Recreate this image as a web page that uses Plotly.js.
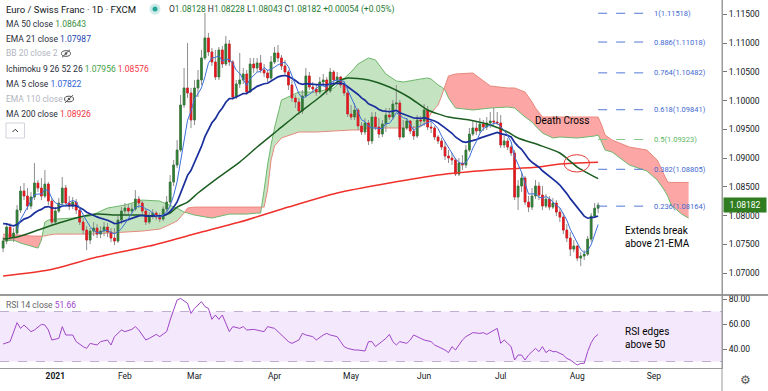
<!DOCTYPE html>
<html><head><meta charset="utf-8">
<script src="https://cdn.plot.ly/plotly-3.0.1.min.js"></script>
<style>html,body{margin:0;padding:0;background:#fff;}#chart{width:768px;height:391px;}</style>
</head><body><div id="chart"></div>
<script>
const startDate='2020-12-10', endDate='2021-09-30', holidays=['2020-12-25','2021-01-01'];
const opens=[1.07435,1.07557,1.07800,1.07626,1.07696,1.08096,1.08427,1.08340,1.08166,1.08322,
1.08566,1.08479,1.08340,1.08548,1.08253,1.07887,1.08079,1.08218,1.08479,1.08218,
1.08166,1.08235,1.08096,1.07887,1.07748,1.07574,1.07731,1.07783,1.07678,1.07731,
1.07800,1.07713,1.07609,1.07557,1.07922,1.08079,1.08131,1.08079,1.08113,1.08287,
1.08218,1.08079,1.07887,1.07992,1.08044,1.07974,1.07939,1.08113,1.08235,1.08583,
1.08879,1.09140,1.09923,1.10219,1.10132,1.09662,1.10219,1.10358,1.10741,1.11089,
1.10845,1.10671,1.10410,1.10880,1.10636,1.10984,1.10671,1.10062,1.10288,1.10358,
1.10462,1.10149,1.10636,1.10567,1.10654,1.10532,1.10480,1.10393,1.10671,1.10828,
1.10741,1.10602,1.10497,1.10271,1.10045,1.09975,1.09819,1.10080,1.10428,1.10236,
1.10201,1.10149,1.10323,1.10358,1.10167,1.10497,1.10358,1.10410,1.10271,1.10132,
1.09766,1.09714,1.09836,1.09558,1.09453,1.09610,1.09297,1.09714,1.09540,1.09418,
1.09592,1.09749,1.09714,1.09940,1.09958,1.09366,1.09523,1.09645,1.09471,1.09384,
1.09662,1.09645,1.09836,1.09540,1.09523,1.09366,1.09297,1.09192,1.09036,1.09001,
1.08966,1.08722,1.08914,1.08879,1.09140,1.09418,1.09523,1.09471,1.09592,1.09540,
1.09610,1.09645,1.09627,1.09610,1.09227,1.09297,1.09192,1.09088,1.08322,1.08514,
1.08653,1.08235,1.08148,1.08340,1.08514,1.08357,1.08166,1.08287,1.08148,1.08218,
1.08061,1.07974,1.07748,1.07609,1.07417,1.07470,1.07261,1.07296,1.07330,1.07591,
1.07992,1.08128];
const highs=[1.07626,1.07852,1.07870,1.07783,1.08183,1.08514,1.08566,1.08479,1.08409,1.08914,
1.08618,1.08653,1.08792,1.08583,1.08305,1.08148,1.08305,1.08670,1.08531,1.08340,
1.08322,1.08287,1.08148,1.07957,1.07818,1.07783,1.07887,1.07852,1.07818,1.07887,
1.07870,1.07783,1.07783,1.07992,1.08148,1.08218,1.08200,1.08200,1.08444,1.08340,
1.08253,1.08113,1.08061,1.08113,1.08079,1.08044,1.08166,1.08340,1.08705,1.08966,
1.09314,1.10097,1.10567,1.11002,1.10219,1.10358,1.10532,1.10880,1.11524,1.11176,
1.10915,1.10880,1.10932,1.10950,1.11124,1.11054,1.10706,1.10358,1.10828,1.10567,
1.10532,1.10741,1.10741,1.10741,1.10793,1.10636,1.10532,1.10776,1.10932,1.10967,
1.10793,1.10706,1.10532,1.10358,1.10097,1.10045,1.10184,1.10567,1.10497,1.10323,
1.10288,1.10410,1.10462,1.10410,1.10567,1.10532,1.10497,1.10428,1.10323,1.10219,
1.09923,1.09958,1.09871,1.09627,1.09697,1.09662,1.09801,1.09801,1.09697,1.09662,
1.09871,1.09871,1.10010,1.10271,1.10010,1.09662,1.09697,1.09662,1.09558,1.09749,
1.09732,1.09940,1.09906,1.09627,1.09558,1.09401,1.09349,1.09279,1.09140,1.09088,
1.09001,1.09001,1.09053,1.09227,1.09523,1.09662,1.09627,1.09697,1.09662,1.09714,
1.09801,1.09871,1.09801,1.09749,1.09384,1.09349,1.09227,1.09140,1.08618,1.08757,
1.08688,1.08340,1.08479,1.08618,1.08583,1.08514,1.08374,1.08340,1.08305,1.08270,
1.08131,1.08044,1.07852,1.07713,1.07574,1.07487,1.07365,1.07400,1.07644,1.08044,
1.08218,1.08228];
const lows=[1.07365,1.07504,1.07574,1.07539,1.07661,1.08044,1.08270,1.08096,1.08113,1.08270,
1.08409,1.08270,1.08305,1.08183,1.07835,1.07852,1.08044,1.08183,1.08166,1.08096,
1.08113,1.08026,1.07835,1.07678,1.07400,1.07504,1.07644,1.07609,1.07609,1.07644,
1.07626,1.07539,1.07487,1.07522,1.07852,1.08026,1.08026,1.08044,1.08079,1.08131,
1.08026,1.07835,1.07852,1.07939,1.07922,1.07887,1.07905,1.08061,1.08183,1.08514,
1.08827,1.09105,1.09871,1.10045,1.09523,1.09575,1.10062,1.10271,1.10706,1.10776,
1.10602,1.10358,1.10358,1.10567,1.10602,1.10602,1.10010,1.10027,1.10219,1.10288,
1.10097,1.10132,1.10480,1.10497,1.10480,1.10410,1.10323,1.10358,1.10636,1.10671,
1.10532,1.10445,1.10184,1.09975,1.09871,1.09749,1.09766,1.10045,1.10184,1.10132,
1.10080,1.10114,1.10254,1.10097,1.10132,1.10288,1.10288,1.10219,1.10080,1.09714,
1.09662,1.09662,1.09488,1.09401,1.09401,1.09227,1.09244,1.09488,1.09349,1.09366,
1.09453,1.09662,1.09679,1.09836,1.09314,1.09349,1.09488,1.09418,1.09314,1.09349,
1.09575,1.09558,1.09488,1.09436,1.09314,1.09244,1.09140,1.08966,1.08914,1.08879,
1.08688,1.08688,1.08792,1.08827,1.09105,1.09384,1.09401,1.09436,1.09471,1.09488,
1.09523,1.09558,1.09575,1.09175,1.09175,1.09140,1.09036,1.08270,1.08096,1.08409,
1.08183,1.08061,1.08096,1.08287,1.08270,1.08096,1.08131,1.08096,1.08113,1.07992,
1.07887,1.07678,1.07539,1.07296,1.07365,1.07209,1.07122,1.07226,1.07296,1.07539,
1.07957,1.08043];
const closes=[1.07557,1.07800,1.07626,1.07696,1.08096,1.08427,1.08340,1.08166,1.08322,1.08566,
1.08479,1.08340,1.08548,1.08253,1.07887,1.08079,1.08218,1.08479,1.08218,1.08166,
1.08235,1.08096,1.07887,1.07748,1.07574,1.07731,1.07783,1.07678,1.07731,1.07800,
1.07713,1.07609,1.07557,1.07922,1.08079,1.08131,1.08079,1.08113,1.08287,1.08218,
1.08079,1.07887,1.07992,1.08044,1.07974,1.07939,1.08113,1.08235,1.08583,1.08879,
1.09140,1.09923,1.10219,1.10132,1.09662,1.10219,1.10358,1.10741,1.11089,1.10845,
1.10671,1.10410,1.10880,1.10636,1.10984,1.10671,1.10062,1.10288,1.10358,1.10462,
1.10149,1.10636,1.10567,1.10654,1.10532,1.10480,1.10393,1.10671,1.10828,1.10741,
1.10602,1.10497,1.10271,1.10045,1.09975,1.09819,1.10080,1.10428,1.10236,1.10201,
1.10149,1.10323,1.10358,1.10167,1.10497,1.10358,1.10410,1.10271,1.10132,1.09766,
1.09714,1.09836,1.09558,1.09453,1.09610,1.09297,1.09714,1.09540,1.09418,1.09592,
1.09749,1.09714,1.09940,1.09958,1.09366,1.09523,1.09645,1.09471,1.09384,1.09662,
1.09645,1.09836,1.09540,1.09523,1.09366,1.09297,1.09192,1.09036,1.09001,1.08966,
1.08722,1.08914,1.08879,1.09140,1.09418,1.09523,1.09471,1.09592,1.09540,1.09610,
1.09645,1.09627,1.09610,1.09227,1.09297,1.09192,1.09088,1.08322,1.08514,1.08653,
1.08235,1.08148,1.08340,1.08514,1.08357,1.08166,1.08287,1.08148,1.08218,1.08061,
1.07974,1.07748,1.07609,1.07417,1.07470,1.07261,1.07296,1.07330,1.07591,1.07992,
1.08128,1.08182];

const ma50Bars=[0,4,10,16,22,27,33,39,45,48,50,53,56,62,68,73,79,85,91,96,99,105,111,117,122,128,134,140,145,148,154,160,165,171];
const ma50Vals=[1.07591,1.07626,1.07748,1.07870,1.07974,1.08026,1.08009,1.08009,1.07992,1.08044,1.08148,1.08235,1.08392,1.08670,1.08931,1.09192,1.09488,1.09784,1.10062,1.10323,1.10393,1.10358,1.10236,1.10045,1.09836,1.09714,1.09662,1.09575,1.09453,1.09349,1.09227,1.09088,1.08844,1.08643];
const ma200Bars=[0,13,27,42,56,68,82,96,111,125,140,154,160,171];
const ma200Vals=[1.06948,1.07052,1.07278,1.07470,1.07696,1.07887,1.08148,1.08392,1.08566,1.08705,1.08792,1.08844,1.08896,1.08926];
const emaSeed=1.0789;

const cloudBars=[0,3,5,8,10,11,12,13,15,20,25,30,35,40,45,47,50,52,53,55,60,65,70,73,74,75,76,77,78,80,85,90,95,100,102,105,107,110,113,115,120,122,123,125,126,127,128,130,135,140,145,147,150,152,153,155,158,160,165,170,171,172,173,175,180,185,188,190,191,192,195,197];
const leadA=[1.07557,1.07574,1.07522,1.07470,1.07435,1.07574,1.07887,1.07922,1.07939,1.07957,1.07992,1.08131,1.08183,1.08270,1.08253,1.08200,1.08131,1.08061,1.08044,1.08009,1.07957,1.08026,1.08026,1.08044,1.08044,1.08444,1.08879,1.09227,1.09523,1.10010,1.10149,1.10149,1.10219,1.10497,1.10636,1.10741,1.10706,1.10462,1.10341,1.10323,1.10375,1.10393,1.10375,1.10271,1.10236,1.10184,1.10045,1.09871,1.09836,1.09871,1.09888,1.09871,1.09714,1.09627,1.09558,1.09436,1.09349,1.09366,1.09349,1.09384,1.09401,1.09279,1.09140,1.09105,1.08879,1.08775,1.08618,1.08444,1.08340,1.08183,1.08026,1.07956];
const leadB=[1.07678,1.07661,1.07661,1.07644,1.07644,1.07644,1.07644,1.07661,1.07678,1.07678,1.07678,1.07696,1.07713,1.07731,1.07765,1.07818,1.07905,1.08044,1.08131,1.08148,1.08148,1.08148,1.08148,1.08148,1.08148,1.08148,1.08444,1.08966,1.09210,1.09349,1.09453,1.09453,1.09471,1.09488,1.09488,1.09523,1.09523,1.09523,1.09523,1.09523,1.09540,1.09662,1.09784,1.09923,1.10080,1.10254,1.10428,1.10462,1.10480,1.10254,1.10219,1.10219,1.10149,1.09975,1.09871,1.09714,1.09714,1.09714,1.09714,1.09714,1.09714,1.09575,1.09401,1.09314,1.09192,1.09140,1.08966,1.08705,1.08583,1.08576,1.08576,1.08576];

const rsiBars=[0,2,4,5,6,8,9,11,12,13,14,16,17,18,20,21,23,24,25,27,28,30,31,32,34,35,37,38,39,41,42,44,45,47,48,49,50,51,53,54,55,57,58,59,60,61,62,63,65,66,68,69,70,72,73,75,76,78,79,80,82,83,85,86,87,89,90,92,93,94,96,97,98,99,101,102,104,105,106,107,109,110,111,112,113,114,116,117,118,120,121,123,124,125,127,128,129,130,132,133,134,135,137,138,139,141,142,143,144,145,146,147,148,149,150,151,153,154,155,156,157,158,159,161,162,163,165,166,167,168,169,170,171];
const rsiVals=[44,45.9,61.1,56.5,59.2,53.9,55.2,59.7,59.2,55.2,47.2,48.5,57.9,51.2,51.2,45.9,41.9,40.5,44.5,43.2,45.9,47.2,43.2,49.9,55.2,53.9,55.7,57.9,55.2,47.2,48.5,51.7,49.9,53.9,63.2,71.2,79.2,80.5,76.5,68.5,72.5,77.9,73.9,72.5,63.7,67.2,63.7,67.2,53.9,57.9,56.5,57.9,55.2,55.7,55.2,53.9,57.9,56.5,53.9,51.2,45.9,44.5,47.2,52.5,51.2,49.9,47.2,51.2,52.5,51.2,49.9,45.9,41.9,40.5,39.2,39.2,38.4,45.9,45.9,41.9,45.9,48.5,51.7,45.9,43.2,45.9,44.5,47.2,51.2,48.5,47.2,45.9,43.2,41.9,39.2,37.1,41.9,39.2,47.2,49.9,51.2,53.1,52.5,53.1,51.7,54.7,56.5,44.5,47.2,44.5,41.9,31.2,35.2,35.2,31.2,35.2,40.5,37.9,41.9,37.1,39.2,37.9,37.9,35.2,32.5,31.2,27.2,28.5,28.5,38,45,49.5,51.66];

const fibLevels=[1,0.886,0.764,0.618,0.5,0.382,0.236];
const fibPrices=[1.11518,1.11018,1.10482,1.09841,1.09323,1.08805,1.08164];
const monthStarts=['2021-01-04','2021-02-01','2021-03-01','2021-04-01','2021-05-03','2021-06-01','2021-07-01','2021-08-02','2021-09-01'];
const monthLabels=['<b>2021</b>','Feb','Mar','Apr','May','Jun','Jul','Aug','Sep'];
const priceTicks=[1.07,1.075,1.08,1.085,1.09,1.095,1.10,1.105,1.11,1.115];
const rsiTicks=[40,60,80];
const legendValues={ma50:'1.08643',ema21:'1.07987',ichiA:'1.07956',ichiB:'1.08576',ma5:'1.07822',ma200:'1.08926',rsi:'51.66'};

// trading calendar
const tradingDays=[];
for(let d=new Date(startDate+'T00:00:00Z');d<=new Date(endDate+'T00:00:00Z');d.setUTCDate(d.getUTCDate()+1)){
  const wd=d.getUTCDay(), s=d.toISOString().slice(0,10);
  if(wd>0&&wd<6&&!holidays.includes(s)) tradingDays.push(s);
}
const bars=closes.map((_,i)=>i);
const last=closes.length-1;

// indicators derived from closes
const ma5=closes.map((c,i)=>i<4?null:closes.slice(i-4,i+1).reduce((a,b)=>a+b,0)/5);
const ema21=[];closes.forEach((c,i)=>{const p=i===0?emaSeed:ema21[i-1];ema21.push(p+(c-p)*2/22);});

const UP='#2e7d32', DN='#e8161c', WICK='#8e8e8e';
const traces=[
 {type:'candlestick',x:bars,open:opens,high:highs,low:lows,close:closes,whiskerwidth:0,
  increasing:{line:{color:WICK,width:1},fillcolor:WICK},decreasing:{line:{color:WICK,width:1},fillcolor:WICK},hoverinfo:'skip'},
 {type:'candlestick',x:bars,open:opens,close:closes,high:opens.map((o,i)=>Math.max(o,closes[i])),low:opens.map((o,i)=>Math.min(o,closes[i])),whiskerwidth:0,
  increasing:{line:{color:UP,width:0.6},fillcolor:UP},decreasing:{line:{color:DN,width:0.6},fillcolor:DN},hoverinfo:'skip'},
 {type:'scatter',mode:'lines',x:ma200Bars,y:ma200Vals,line:{color:'#f0302a',width:1.5,shape:'spline',smoothing:0.6},hoverinfo:'skip'},
 {type:'scatter',mode:'lines',x:ma50Bars,y:ma50Vals,line:{color:'#1b5e20',width:1.5,shape:'spline',smoothing:0.6},hoverinfo:'skip'},
 {type:'scatter',mode:'lines',x:bars,y:ema21,line:{color:'#1a2f9c',width:1.7},hoverinfo:'skip'},
 {type:'scatter',mode:'lines',x:bars,y:ma5,line:{color:'#3d6fd8',width:1},hoverinfo:'skip'},
 {type:'scatter',mode:'lines',x:rsiBars,y:rsiVals,yaxis:'y2',line:{color:'#a046c8',width:1},hoverinfo:'skip'}
];

const W=722,H=368;
const X=px=>px/W, Y=py=>1-py/H;
const shapes=[];
// ichimoku cloud
function P(x,y){return x.toFixed(3)+','+y.toFixed(6);}
let seg=[],sgn=null;
function flush(){if(seg.length<2)return;const up=seg.map(p=>P(p[0],p[1]));const dn=seg.slice().reverse().map(p=>P(p[0],p[2]));
 shapes.push({type:'path',xref:'x',yref:'y',layer:'below',path:'M'+up.join('L')+'L'+dn.join('L')+'Z',fillcolor:sgn>0?'#c3e3c1':'#fca6a6',line:{width:0}});}
for(let k=0;k<cloudBars.length;k++){
  const x=cloudBars[k],a=leadA[k],b=leadB[k],s=a>=b?1:-1;
  if(sgn!==null&&s!==sgn){const xp=cloudBars[k-1],ap=leadA[k-1],bp=leadB[k-1];const dp=ap-bp,d=a-b,t=dp/(dp-d);
    const xc=xp+t*(x-xp),yc=ap+t*(a-ap);seg.push([xc,yc,yc]);flush();seg=[[xc,yc,yc]];}
  seg.push([x,a,b]);sgn=s;
}
flush();
shapes.push({type:'path',xref:'x',yref:'y',layer:'below',path:'M'+cloudBars.map((x,k)=>P(x,leadA[k])).join('L'),line:{color:'#6db86b',width:1}});
shapes.push({type:'path',xref:'x',yref:'y',layer:'below',path:'M'+cloudBars.map((x,k)=>P(x,leadB[k])).join('L'),line:{color:'#e8897c',width:1}});
// RSI band
shapes.push({type:'rect',xref:'paper',yref:'y2',x0:0,x1:1,y0:30,y1:70,fillcolor:'#f4e8fc',line:{width:0},layer:'below'});
[30,70].forEach(v=>shapes.push({type:'line',xref:'paper',yref:'y2',x0:0,x1:1,y0:v,y1:v,line:{color:'#bfaed0',width:1,dash:'dash'},layer:'below'}));
// pane separators
shapes.push({type:'line',xref:'paper',yref:'paper',x0:0,x1:768/W,y0:Y(295),y1:Y(295),line:{color:'#777',width:1.5}});
shapes.push({type:'line',xref:'paper',yref:'paper',x0:1,x1:1,y0:Y(391),y1:1,line:{color:'#999',width:1}});
// fib levels
const fibAnn=[];
fibLevels.forEach((lv,k)=>{const col=lv===0.5?'#86c98a':'#5277d6';
  shapes.push({type:'line',xref:'x',yref:'y',x0:last,x1:last+15.2,y0:fibPrices[k],y1:fibPrices[k],line:{color:col,width:1,dash:'dash'}});
  fibAnn.push({xref:'x',yref:'y',x:last+15.6,y:fibPrices[k],xanchor:'left',yanchor:'middle',showarrow:false,
    text:lv+'('+fibPrices[k].toFixed(5)+')',font:{size:7.5,color:lv===0.5?'#5cb85f':'#3f68d0'}});
});
// death-cross ellipse
shapes.push({type:'circle',xref:'paper',yref:'paper',x0:X(564),x1:X(589.5),y0:Y(172),y1:Y(154.7),line:{color:'#e53935',width:1}});
// header icons
shapes.push({type:'circle',xref:'paper',yref:'paper',x0:X(149.5),x1:X(160.5),y0:Y(14.5),y1:Y(3.5),fillcolor:'rgba(38,166,154,0.22)',line:{width:0}});
shapes.push({type:'circle',xref:'paper',yref:'paper',x0:X(152.5),x1:X(157.5),y0:Y(11.5),y1:Y(6.5),fillcolor:'#26a69a',line:{width:0}});
function eye(cx,cy){
  shapes.push({type:'circle',xref:'paper',yref:'paper',x0:X(cx-4.5),x1:X(cx+4.5),y0:Y(cy+2.8),y1:Y(cy-2.8),line:{color:'#555',width:1}});
  shapes.push({type:'circle',xref:'paper',yref:'paper',x0:X(cx-1.3),x1:X(cx+1.3),y0:Y(cy+1.3),y1:Y(cy-1.3),fillcolor:'#555',line:{width:0}});
  shapes.push({type:'line',xref:'paper',yref:'paper',x0:X(cx-4),x1:X(cx+4),y0:Y(cy+3.8),y1:Y(cy-3.8),line:{color:'#555',width:1}});
}
eye(66,53.5);eye(69,99);
shapes.push({type:'rect',xref:'paper',yref:'paper',x0:X(6),x1:X(24.5),y0:Y(138),y1:Y(123),line:{color:'#d1d4dc',width:1}});
shapes.push({type:'path',xref:'paper',yref:'paper',path:`M${X(12.5)},${Y(132)}L${X(15.2)},${Y(129.3)}L${X(18)},${Y(132)}`,line:{color:'#333',width:1}});

const LBL='#2a2e39', HID='#b2b5be';
function ann(x,y,text,extra){return Object.assign({xref:'paper',yref:'paper',x:X(x),y:Y(y),text,showarrow:false,xanchor:'left',yanchor:'middle',font:{size:8.5,color:LBL}},extra||{});}
const g=v=>`<span style="color:#1f7a35">${v}</span>`;
const annotations=[
 ann(4,9,'Euro / Swiss Franc · 1D · FXCM',{font:{size:9.5,color:'#131722'}}),
 ann(167,9,`O${g(opens[last].toFixed(5))} H${g(highs[last].toFixed(5))} L${g(lows[last].toFixed(5))} C${g(closes[last].toFixed(5))} ${g('+0.00054 (+0.05%)')}`,{font:{size:8.5,color:'#2a2e39'}}),
 ann(4,24,`MA 50 close <span style="color:#388e3c">${legendValues.ma50}</span>`),
 ann(4,38.5,`EMA 21 close <span style="color:#2644b0">${legendValues.ema21}</span>`),
 ann(4,53.5,'BB 20 close 2',{font:{size:8.5,color:HID}}),
 ann(4,69,`Ichimoku 9 26 52 26 <span style="color:#43a047">${legendValues.ichiA}</span> <span style="color:#f23645">${legendValues.ichiB}</span>`),
 ann(4,84,`MA 5 close <span style="color:#2f62d6">${legendValues.ma5}</span>`),
 ann(4,99,'EMA 110 close',{font:{size:8.5,color:HID}}),
 ann(4,114,`MA 200 close <span style="color:#f23645">${legendValues.ma200}</span>`),
 ann(4,304.5,`<span style="color:#666">RSI 14 close</span> <span style="color:#a046c8">${legendValues.rsi}</span>`),
 ann(562,121,'Death Cross',{xanchor:'center',font:{size:10,color:'#000'}}),
 ann(623,237,'Extends break<br>above 21-EMA',{align:'left',font:{size:10,color:'#000'}}),
 ann(623,338,'RSI edges<br>above 50',{align:'left',font:{size:10,color:'#000'}}),
 {xref:'paper',yref:'y',x:X(722.5),y:closes[last],xanchor:'left',yanchor:'middle',showarrow:false,text:closes[last].toFixed(5),
  bgcolor:'#2f7d20',font:{size:8.5,color:'#fff'},borderpad:2,width:38},
 ann(745,380,'⚙',{xanchor:'center',font:{size:12,color:'#555'}})
].concat(fibAnn);

const layout={width:768,height:391,margin:{l:0,r:46,t:0,b:23},paper_bgcolor:'#fff',plot_bgcolor:'#fff',showlegend:false,
 font:{family:'Roboto, sans-serif',size:8.5,color:'#131722'},
 xaxis:{range:[-0.9,206.6],anchor:'y2',rangeslider:{visible:false},showgrid:false,zeroline:false,showline:true,linecolor:'#9a9a9a',
   tickvals:monthStarts.map(d=>tradingDays.indexOf(d)),ticktext:monthLabels,ticks:'',tickfont:{size:8.5,color:'#131722'},fixedrange:true},
 yaxis:{domain:[1-295/H,1],range:[1.06619,1.11749],side:'right',tickvals:priceTicks,tickformat:'.5f',ticks:'outside',ticklen:4,tickcolor:'#777',
   showline:true,linecolor:'#9a9a9a',showgrid:false,zeroline:false,tickfont:{size:8.5,color:'#131722'}},
 yaxis2:{domain:[0,1-295/H],range:[24.8,83.2],side:'right',tickvals:rsiTicks,tickformat:'.2f',ticks:'outside',ticklen:4,tickcolor:'#777',
   showline:true,linecolor:'#9a9a9a',showgrid:false,zeroline:false,tickfont:{size:8.5,color:'#131722'}},
 shapes,annotations};
Plotly.newPlot('chart',traces,layout,{displayModeBar:false,staticPlot:true});
</script></body></html>
